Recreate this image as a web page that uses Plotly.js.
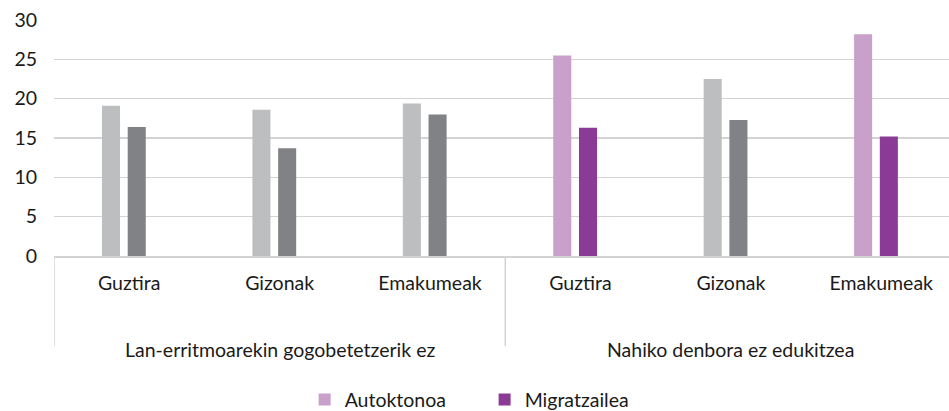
<!DOCTYPE html>
<html>
<head>
<meta charset="utf-8">
<script src="https://cdn.plot.ly/plotly-3.0.1.min.js"></script>
<style>html,body{margin:0;padding:0;background:#fff;}#chart{width:949px;height:411px;}</style>
</head>
<body>
<div id="chart"></div>
<script>
// Data
const subcategories = ["Guztira", "Gizonak", "Emakumeak", "Guztira", "Gizonak", "Emakumeak"];
const groups = ["Lan-erritmoarekin gogobetetzerik ez", "Nahiko denbora ez edukitzea"];
const groupOfCategory = [0, 0, 0, 1, 1, 1];
const autoktonoa = [19.1, 18.6, 19.4, 25.5, 22.5, 28.2];
const migratzailea = [16.4, 13.7, 18.0, 16.3, 17.3, 15.2];
const highlighted = [false, false, false, true, false, true];
const seriesNames = ["Autoktonoa", "Migratzailea"];
const yTicks = [0, 5, 10, 15, 20, 25, 30];

// Styles
const C = {
  lightGrey: "#BDBEC0", darkGrey: "#818285",
  lightPurple: "#C8A0CA", darkPurple: "#8B3A96",
  grid: "#D3D3D3", text: "#1a1a1a"
};
const FONT = "Lato, 'Open Sans', sans-serif";
const pos = subcategories.map((_, i) => i);

function pick(vals, flag) {
  return vals.map((v, i) => (highlighted[i] === flag ? v : null));
}

const traces = [
  {type: "bar", x: pos, y: pick(autoktonoa, false), name: seriesNames[0], showlegend: false,
   marker: {color: C.lightGrey}, offset: -0.181, width: 0.12, hoverinfo: "y"},
  {type: "bar", x: pos, y: pick(migratzailea, false), name: seriesNames[1], showlegend: false,
   marker: {color: C.darkGrey}, offset: -0.01, width: 0.12, hoverinfo: "y"},
  {type: "bar", x: pos, y: pick(autoktonoa, true), name: seriesNames[0],
   marker: {color: C.lightPurple}, offset: -0.181, width: 0.12, hoverinfo: "y"},
  {type: "bar", x: pos, y: pick(migratzailea, true), name: seriesNames[1],
   marker: {color: C.darkPurple}, offset: -0.01, width: 0.12, hoverinfo: "y"}
];

// group label annotations and dividers
const annotations = groups.map((g, gi) => {
  const idx = groupOfCategory.map((v, i) => v === gi ? i : null).filter(v => v !== null);
  const mid = (idx[0] + idx[idx.length - 1]) / 2;
  return {x: mid, xref: "x", y: -0.398, yref: "paper", text: g, showarrow: false,
          xanchor: "center", yanchor: "middle", font: {family: FONT, size: 19.5, color: C.text}};
});
const shapes = [];
const bounds = [-0.5];
for (let i = 1; i < groupOfCategory.length; i++) {
  if (groupOfCategory[i] !== groupOfCategory[i - 1]) bounds.push(i - 0.5);
}
bounds.forEach(b => shapes.push({type: "line", xref: "x", yref: "paper", x0: b, x1: b, y0: 0, y1: -0.381,
  line: {color: C.grid, width: 1.5}}));

const layout = {
  width: 949, height: 411,
  margin: {l: 54, r: 0, t: 20, b: 155},
  paper_bgcolor: "#fff", plot_bgcolor: "#fff",
  barmode: "overlay",
  font: {family: FONT, size: 19, color: C.text},
  xaxis: {
    type: "linear", range: [-0.5, 5.45], tickmode: "array", tickvals: pos, ticktext: subcategories,
    showgrid: false, zeroline: false, showline: true, linecolor: C.grid, linewidth: 1.5,
    ticks: "", ticklabelstandoff: 9, tickfont: {family: FONT, size: 19.5, color: C.text}, fixedrange: true
  },
  yaxis: {
    range: [0, 30], tickmode: "array", tickvals: yTicks, ticktext: yTicks.map(String),
    showgrid: true, gridcolor: C.grid, gridwidth: 1.5, zeroline: false, showline: false,
    ticks: "", ticklabelstandoff: 16, tickfont: {family: FONT, size: 19.5, color: C.text}, fixedrange: true
  },
  showlegend: true,
  legend: {orientation: "h", xref: "container", yref: "container", x: 0.321, xanchor: "left",
           y: 0.027, yanchor: "middle",
           font: {family: FONT, size: 19.5, color: C.text}, entrywidth: 135, entrywidthmode: "pixels",
           itemclick: false, itemdoubleclick: false, traceorder: "normal"},
  annotations: annotations,
  shapes: shapes
};

Plotly.newPlot("chart", traces, layout, {displayModeBar: false, staticPlot: true});
</script>
</body>
</html>
